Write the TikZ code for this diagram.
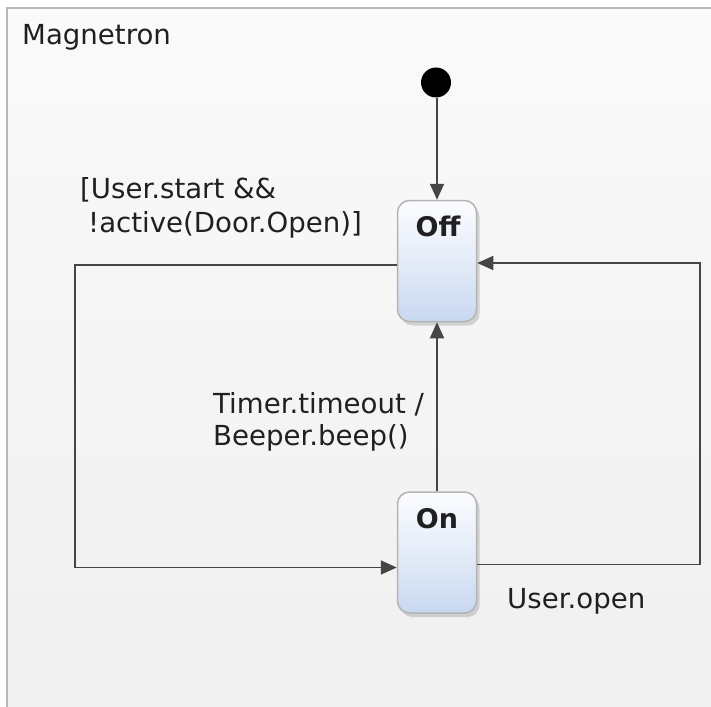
\documentclass[tikz,border=0pt]{standalone}
\usepackage{fontspec}
\setmainfont{DejaVu Sans}
\usetikzlibrary{arrows.meta,shadows,shapes.geometric}
\definecolor{linec}{HTML}{454545}
\definecolor{framec}{HTML}{B8B8B8}
\definecolor{boxtop}{HTML}{FBFCFF}
\definecolor{boxbot}{HTML}{C8D8F0}
\definecolor{boxline}{HTML}{B4B4B4}
\definecolor{txt}{HTML}{202020}
\begin{document}
\begin{tikzpicture}[x=1pt,y=-1pt,
  conn/.style={draw=linec,line width=1.6pt,-{Triangle[length=16pt,width=14pt]}},
  statebox/.style={rectangle,rounded corners=12pt,minimum width=79pt,minimum height=121pt,
    top color=boxtop,bottom color=boxbot,middle color=boxtop!55!boxbot,draw=boxline,line width=1.5pt,
    drop shadow={shadow xshift=3pt,shadow yshift=-4pt,opacity=0.3}},
  stitle/.style={anchor=base,font=\fontsize{27}{32}\selectfont\bfseries,text=txt,inner sep=0pt},
  lbl/.style={anchor=base west,font=\fontsize{27.6}{32}\selectfont,text=txt,inner sep=0pt},
  initst/.style={circle,fill=black,minimum size=30pt,inner sep=0pt}]
\useasboundingbox (0,0) rectangle (711,706);
\fill[white] (0,0) rectangle (711,706);
\shade[top color=white!98!black,bottom color=white!94!black] (7,8) rectangle (720,720);
\draw[framec,line width=2pt] (720,8) -- (7,8) -- (7,720);
\node[lbl] (title) at (22,45) {Magnetron};
\node[initst] (init) at (436,82.5) {};
\node[statebox] (off) at (437,261) {};
\node[stitle] (offt) at (438,236) {Off};
\node[statebox] (on) at (437,552.5) {};
\node[stitle] (ont) at (437,528) {On};
\draw[conn] (init.south -| off.north) -- (off.north);
\draw[conn] (on.north) -- (off.south);
\draw[conn] ([yshift=-4pt]off.west) -- ++(-322,0) |- ([yshift=-15pt]on.west);
\draw[conn] ([yshift=-12pt]on.east) -- ++(223,0) |- ([yshift=-2pt]off.east);
\node[lbl] (guard1) at (80,198) {[User.start \&\&};
\node[lbl] (guard2) at (88,232) {!active(Door.Open)]};
\node[lbl] (timer1) at (213,413) {Timer.timeout /};
\node[lbl] (timer2) at (213,445) {Beeper.beep()};
\node[lbl] (uopen) at (507,608) {User.open};
\end{tikzpicture}
\end{document}
